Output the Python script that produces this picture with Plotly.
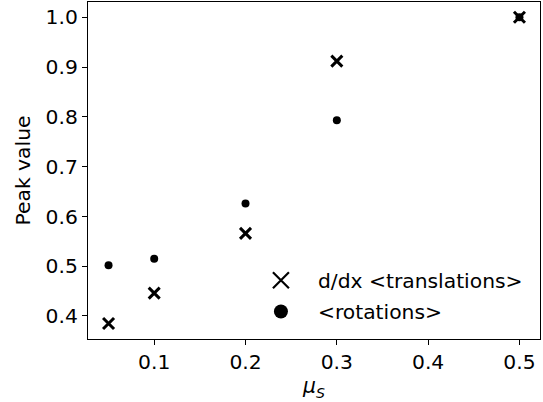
import plotly.graph_objects as go

mu_s = [0.05, 0.1, 0.2, 0.3, 0.5]
translations = [0.385, 0.446, 0.566, 0.912, 1.0]
rotations = [0.502, 0.515, 0.626, 0.793, 1.0]

x_ticks = [0.1, 0.2, 0.3, 0.4, 0.5]
y_ticks = [0.4, 0.5, 0.6, 0.7, 0.8, 0.9, 1.0]

font = dict(family="DejaVu Sans", size=20.3, color="black")

fig = go.Figure()
fig.add_trace(go.Scatter(x=mu_s, y=translations, mode="markers", showlegend=False,
                         marker=dict(symbol="x-thin", size=11, color="black",
                                     line=dict(width=3, color="black"))))
fig.add_trace(go.Scatter(x=mu_s, y=rotations, mode="markers", showlegend=False,
                         marker=dict(symbol="circle", size=8, color="black")))
# legend entries (larger markers, as in the reference)
fig.add_trace(go.Scatter(x=[None], y=[None], mode="markers", name="d/dx <translations>",
                         legendgroup="a",
                         marker=dict(symbol="x-thin", size=16, color="black",
                                     line=dict(width=2.2, color="black"))))
fig.add_trace(go.Scatter(x=[None], y=[None], mode="markers", name="<rotations>",
                         legendgroup="b",
                         marker=dict(symbol="circle", size=14, color="black")))

axis_common = dict(showline=True, linecolor="black", linewidth=1.1, mirror=True,
                   ticks="outside", ticklen=5, tickwidth=1.1, tickcolor="black",
                   showgrid=False, zeroline=False, tickfont=font)

fig.update_xaxes(range=[0.0275, 0.5225], tickvals=x_ticks,
                 ticktext=[f"{v:.1f}" for v in x_ticks],
                 title=dict(text="<i>μ<sub>S</sub></i>", font=font, standoff=4),
                 **axis_common)
fig.update_yaxes(range=[0.35375, 1.03075], tickvals=y_ticks,
                 ticktext=[f"{v:.1f}" for v in y_ticks],
                 title=dict(text="Peak value", font=font, standoff=9),
                 **axis_common)

fig.update_layout(
    width=543, height=402,
    margin=dict(l=88, r=3, t=2, b=63),
    plot_bgcolor="white", paper_bgcolor="white",
    font=font,
    showlegend=True,
    legend=dict(x=0.345, y=0.233, xanchor="left", yanchor="top",
                bgcolor="rgba(0,0,0,0)", itemwidth=64, tracegroupgap=2,
                traceorder="grouped", font=font),
)

fig.write_html("out.html", config={"displayModeBar": False},
               post_script="document.body.style.margin='0';")
